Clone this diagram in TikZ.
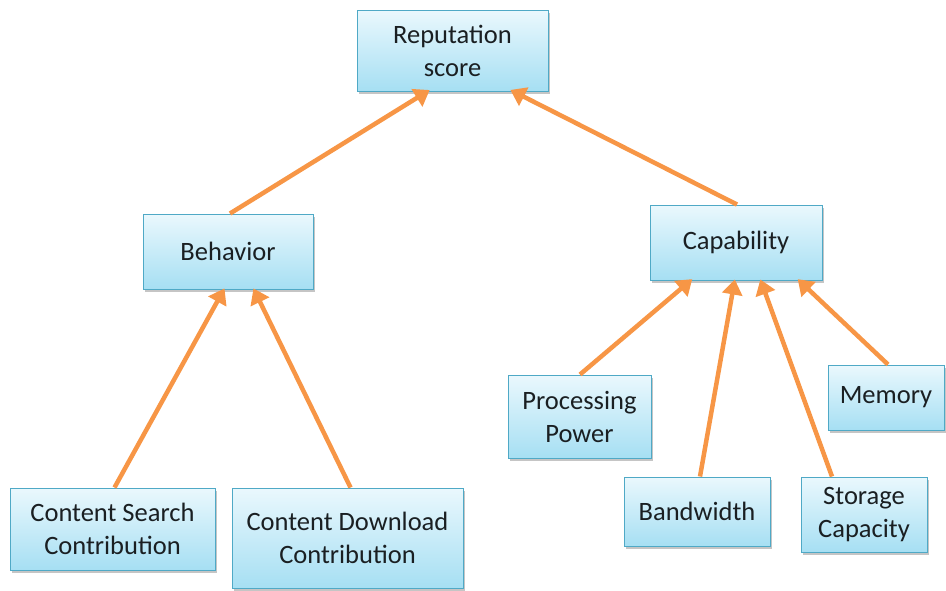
\documentclass[tikz,border=0pt]{standalone}
\usepackage{fontspec}
\setmainfont{Carlito}
\usetikzlibrary{arrows.meta,shadows}
\definecolor{boxtop}{HTML}{EAF8FD}
\definecolor{boxbot}{HTML}{A6DFF3}
\definecolor{boxline}{HTML}{4FA9C6}
\definecolor{arrcol}{HTML}{F79646}
\definecolor{txt}{HTML}{1A1F22}
\tikzset{
  box/.style={rectangle, draw=boxline, line width=1pt, top color=boxtop, bottom color=boxbot,
    align=center, text=txt, font=\fontsize{26.5}{33}\selectfont, inner sep=0pt,
    drop shadow={shadow xshift=2pt, shadow yshift=-2.5pt, fill=black!45, opacity=0.5}},
  arr/.style={draw=arrcol, line width=4.5pt, -{Triangle[length=15pt,width=20pt]}, shorten >=1pt}
}
\begin{document}
\begin{tikzpicture}[x=1pt,y=-1pt]
\useasboundingbox (0,0) rectangle (946,590);
% nodes
\node[box, minimum width=191pt, minimum height=81pt] (rep) at (452.5,50.5) {Reputation\\score};
\node[box, minimum width=170pt, minimum height=75pt] (beh) at (228,251.5) {Behavior};
\node[box, minimum width=172pt, minimum height=75pt] (cap) at (736,242.5) {Capability};
\node[box, minimum width=143pt, minimum height=83pt] (pp) at (579.5,416.5) {Processing\\Power};
\node[box, minimum width=116pt, minimum height=65pt] (mem) at (886,397.5) {Memory};
\node[box, minimum width=126pt, minimum height=75pt] (sto) at (864,514.5) {Storage\\Capacity};
\node[box, minimum width=146pt, minimum height=69pt] (band) at (697,511.5) {Bandwidth};
\node[box, minimum width=205pt, minimum height=82pt] (cs) at (112.5,529) {Content Search\\Contribution};
\node[box, minimum width=231pt, minimum height=100pt] (cd) at (347.5,538) {Content Download\\Contribution};
% connectors
\draw[arr] ([xshift=2pt]beh.north) -- ([xshift=-22pt,yshift=2pt]rep.south);
\draw[arr] ([xshift=1pt]cap.north) -- ([xshift=57pt,yshift=2pt]rep.south);
\draw[arr] ([xshift=2pt]cs.north) -- ([xshift=-3pt,yshift=2pt]beh.south);
\draw[arr] ([xshift=3pt]cd.north) -- ([xshift=25pt,yshift=2pt]beh.south);
\draw[arr] ([xshift=0.5pt]pp.north) -- ([xshift=-43pt,yshift=2pt]cap.south);
\draw[arr] ([xshift=3pt]band.north) -- ([xshift=-1pt,yshift=2pt]cap.south);
\draw[arr] ([xshift=-32pt]sto.north) -- ([xshift=24pt,yshift=2pt]cap.south);
\draw[arr] ([xshift=2pt]mem.north) -- ([xshift=61pt,yshift=2pt]cap.south);
\end{tikzpicture}
\end{document}
